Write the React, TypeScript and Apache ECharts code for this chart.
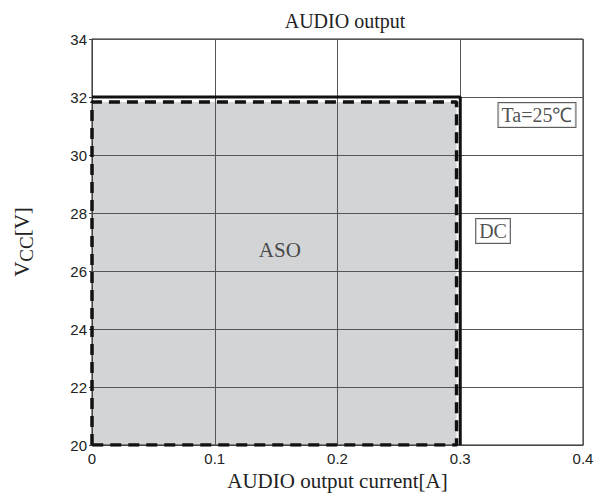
import React, { useEffect, useRef } from "react";
import * as echarts from "echarts";

const xTicks = [0, 0.1, 0.2, 0.3, 0.4];
const yTicks = [20, 22, 24, 26, 28, 30, 32, 34];
const dcLine: [number, number][] = [[0, 32], [0.3, 32], [0.3, 20]];
const asoOutline: [number, number][] = [[0, 20], [0, 31.83], [0.297, 31.83], [0.297, 20], [0, 20]];
const asoFillTop: [number, number][] = [[0, 31.83], [0.297, 31.83]];
const boxedLabels = [
  { text: "Ta=25℃", x: 0.3625, y: 31.38 },
  { text: "DC", x: 0.3267, y: 27.38 },
];
const plainLabels = [{ text: "ASO", x: 0.153, y: 26.72 }];

export default function App() {
  const ref = useRef<HTMLDivElement>(null);
  useEffect(() => {
    if (!ref.current) return;
    const chart = echarts.init(ref.current, undefined, { renderer: "svg" });
    const serif = "'Liberation Serif', 'Times New Roman', serif";
    const sans = "'Liberation Sans', Arial, sans-serif";
    chart.setOption({
      animation: false,
      backgroundColor: "#ffffff",
      title: {
        text: "AUDIO output",
        left: 340,
        textAlign: "center",
        top: 6,
        textStyle: { fontFamily: serif, fontSize: 20, fontWeight: "normal", color: "#222" },
      },
      grid: {
        left: 92,
        right: 23,
        top: 39,
        bottom: 53,
        show: true,
        borderColor: "#222",
        borderWidth: 1,
        backgroundColor: "transparent",
      },
      xAxis: {
        type: "value",
        min: xTicks[0],
        max: xTicks[xTicks.length - 1],
        interval: 0.1,
        name: "AUDIO output current[A]",
        nameLocation: "middle",
        nameGap: 22,
        nameTextStyle: { fontFamily: serif, fontSize: 21, color: "#222" },
        axisLine: { show: true, lineStyle: { color: "#444", width: 1 } },
        axisTick: { show: false },
        axisLabel: { fontFamily: sans, fontSize: 15, color: "#222", margin: 6 },
        splitLine: { show: true, lineStyle: { color: "#555", width: 1 } },
      },
      yAxis: {
        type: "value",
        min: yTicks[0],
        max: yTicks[yTicks.length - 1],
        interval: 2,
        name: "{m|V}{s|CC}{m|[V]}",
        nameLocation: "middle",
        nameGap: 56,
        nameRotate: 90,
        nameTextStyle: {
          rich: {
            m: { fontFamily: serif, fontSize: 21, color: "#222", lineHeight: 28 },
            s: { fontFamily: serif, fontSize: 19, color: "#222", lineHeight: 28, padding: [8, 0, 0, 0] },
          },
        },
        axisLine: { show: true, lineStyle: { color: "#444", width: 1 } },
        axisTick: { show: true, length: 3, lineStyle: { color: "#444" } },
        axisLabel: { fontFamily: sans, fontSize: 15, color: "#222", margin: 5 },
        splitLine: { show: true, lineStyle: { color: "#555", width: 1 } },
      },
      series: [
        {
          type: "line",
          z: -1,
          data: asoFillTop,
          symbol: "none",
          lineStyle: { width: 0, opacity: 0 },
          areaStyle: { color: "#d3d4d6", opacity: 1, origin: "start" },
          silent: true,
        },
        {
          type: "line",
          data: dcLine,
          symbol: "none",
          lineStyle: { color: "#111", width: 3 },
          z: 3,
        },
        {
          type: "line",
          data: asoOutline,
          symbol: "none",
          lineStyle: { color: "#111", width: 3.5, type: [11, 7] },
          z: 4,
        },
        {
          type: "scatter",
          symbolSize: 0,
          data: boxedLabels.map((d) => ({ value: [d.x, d.y], name: d.text })),
          label: {
            show: true,
            position: "inside",
            formatter: (p: any) => p.name,
            fontFamily: serif,
            fontSize: 20,
            color: "#222",
            borderColor: "#333",
            borderWidth: 1,
            padding: [3, 3, 1, 3],
            backgroundColor: "#fff",
          },
          z: 5,
        },
        {
          type: "scatter",
          symbolSize: 0,
          data: plainLabels.map((d) => ({ value: [d.x, d.y], name: d.text })),
          label: {
            show: true,
            position: "inside",
            formatter: (p: any) => p.name,
            fontFamily: serif,
            fontSize: 21,
            color: "#222",
          },
          z: 5,
        },
      ],
    });
    return () => chart.dispose();
  }, []);
  return (
    <div
      ref={ref}
      style={{ position: "absolute", left: 0, top: 0, width: 606, height: 498 }}
    />
  );
}
